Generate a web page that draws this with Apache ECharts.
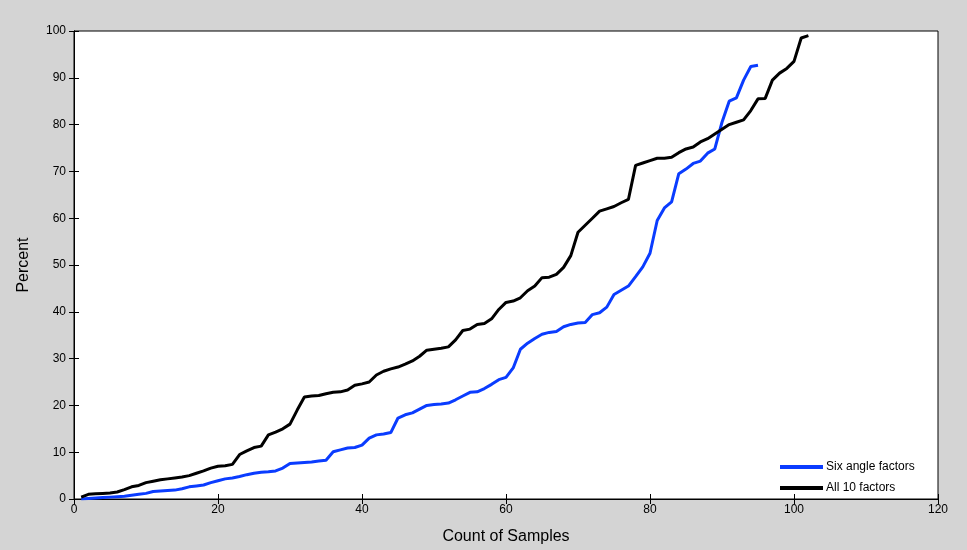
<!DOCTYPE html>
<html>
<head>
<meta charset="utf-8">
<script src="https://cdn.jsdelivr.net/npm/echarts@6/dist/echarts.min.js"></script>
<style>html,body{margin:0;padding:0;background:#d4d4d4;}#c{width:967px;height:550px;}</style>
</head>
<body>
<div id="c"></div>
<script>
var xTicks = [0, 20, 40, 60, 80, 100, 120];
var yTicks = [0, 10, 20, 30, 40, 50, 60, 70, 80, 90, 100];
var seriesNames = ['Six angle factors', 'All 10 factors'];
var sixAngle = [0, 0.1, 0.2, 0.3, 0.4, 0.5, 0.6, 0.8, 1, 1.2, 1.6, 1.7, 1.8, 1.9, 2.2, 2.6, 2.8, 3, 3.5, 3.9,
  4.3, 4.5, 4.8, 5.2, 5.5, 5.7, 5.8, 6, 6.6, 7.6, 7.7, 7.8, 7.9, 8.1, 8.3, 10.1, 10.5, 10.9, 11, 11.5,
  13, 13.7, 13.9, 14.2, 17.3, 18, 18.4, 19.2, 20, 20.2, 20.3, 20.5, 21.2, 22, 22.8, 22.9, 23.6, 24.5, 25.5, 26,
  28, 32, 33.3, 34.3, 35.2, 35.6, 35.8, 36.8, 37.3, 37.6, 37.7, 39.4, 39.8, 41, 43.7, 44.6, 45.5, 47.5, 49.6, 52.5,
  59.5, 62.2, 63.5, 69.5, 70.5, 71.7, 72.2, 73.9, 74.8, 80.5, 85, 85.7, 89.5, 92.4, 92.7];
var allTen = [0.4, 1, 1.1, 1.2, 1.3, 1.5, 2, 2.6, 2.9, 3.5, 3.8, 4.1, 4.3, 4.5, 4.7, 5, 5.5, 6, 6.6, 7,
  7.1, 7.4, 9.5, 10.3, 11, 11.3, 13.7, 14.3, 15, 16, 19, 21.8, 22, 22.1, 22.5, 22.8, 22.9, 23.3, 24.3, 24.6,
  25, 26.5, 27.3, 27.8, 28.2, 28.8, 29.5, 30.5, 31.8, 32, 32.2, 32.5, 34, 36, 36.3, 37.3, 37.5, 38.5, 40.5, 42,
  42.3, 43, 44.5, 45.5, 47.3, 47.4, 48, 49.5, 52, 57, 58.5, 60, 61.5, 62, 62.5, 63.3, 64, 71.3, 71.8, 72.3,
  72.8, 72.8, 73, 74, 74.8, 75.2, 76.3, 77, 78, 79, 80, 80.5, 81, 83, 85.5, 85.6, 89.5, 91, 92, 93.5,
  98.5, 99];

function pairs(arr) { return arr.map(function (v, i) { return [i + 1, v]; }); }

var fontFam = 'Liberation Sans, Arial, sans-serif';
var chart = echarts.init(document.getElementById('c'));
var tickStyle = { show: true, inside: true, length: 5, lineStyle: { color: '#000', width: 1 } };
chart.setOption({
  backgroundColor: '#d4d4d4',
  animation: false,
  grid: { left: 74, right: 29, top: 31, bottom: 51, show: true, backgroundColor: '#fff', borderColor: '#000', borderWidth: 1 },
  legend: {
    data: seriesNames,
    orient: 'vertical',
    left: 775, top: 455,
    itemWidth: 43, itemHeight: 4, itemGap: 7,
    icon: 'rect',
    textStyle: { fontFamily: fontFam, fontSize: 12, color: '#000', lineHeight: 14, padding: [0, 0, 0, -2] }
  },
  xAxis: [{
    type: 'value', min: xTicks[0], max: xTicks[xTicks.length - 1], interval: 20,
    name: 'Count of Samples', nameLocation: 'middle', nameGap: 30,
    nameTextStyle: { fontFamily: fontFam, fontSize: 16, color: '#000' },
    axisLine: { show: true, lineStyle: { color: '#000' } },
    axisTick: tickStyle,
    axisLabel: { fontFamily: fontFam, fontSize: 12, color: '#000', margin: 5 },
    splitLine: { show: false }
  }, {
    type: 'value', position: 'top', min: 0, max: 120, interval: 20,
    axisLine: { show: true, lineStyle: { color: '#000' } },
    axisTick: tickStyle, axisLabel: { show: false }, splitLine: { show: false }
  }],
  yAxis: [{
    type: 'value', min: yTicks[0], max: yTicks[yTicks.length - 1], interval: 10,
    name: 'Percent', nameLocation: 'middle', nameGap: 42, nameRotate: 90,
    nameTextStyle: { fontFamily: fontFam, fontSize: 16, color: '#000' },
    axisLine: { show: true, lineStyle: { color: '#000' } },
    axisTick: tickStyle,
    axisLabel: { fontFamily: fontFam, fontSize: 12, color: '#000', margin: 8 },
    splitLine: { show: false }
  }, {
    type: 'value', position: 'right', min: 0, max: 100, interval: 10,
    axisLine: { show: true, lineStyle: { color: '#000' } },
    axisTick: tickStyle, axisLabel: { show: false }, splitLine: { show: false }
  }],
  series: [{
    name: seriesNames[0], type: 'line', data: pairs(sixAngle),
    showSymbol: false, color: '#0a3cff', lineStyle: { width: 3, color: '#0a3cff' }, z: 3
  }, {
    name: seriesNames[1], type: 'line', data: pairs(allTen),
    showSymbol: false, color: '#000', lineStyle: { width: 3, color: '#000' }, z: 4
  }]
});
</script>
</body>
</html>
